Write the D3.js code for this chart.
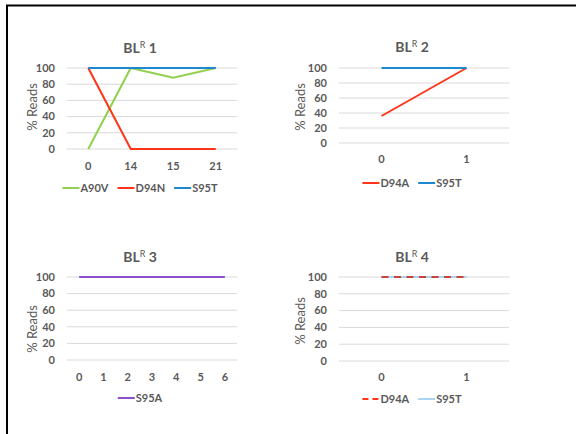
<!DOCTYPE html>
<html>
<head>
<meta charset="utf-8">
<script src="https://cdn.jsdelivr.net/npm/d3@7"></script>
<style>
  body { margin: 0; background: #fff; }
  text { font-family: Lato, "Open Sans", sans-serif; fill: #595959; }
  .tick-label { font-size: 11px; font-weight: bold; }
  .title { font-size: 14px; font-weight: bold; }
  .axis-label { font-size: 13px; }
  .legend-label { font-size: 11px; font-weight: bold; }
</style>
</head>
<body>
<svg width="576" height="434"></svg>
<script>
// chart values
const yTicks = [0, 20, 40, 60, 80, 100];

const days1 = ['0', '14', '15', '21'];
const a90v1 = [0, 100, 88, 100];
const d94n1 = [100, 0, 0, 0];
const s95t1 = [100, 100, 100, 100];

const days2 = ['0', '1'];
const d94a2 = [36, 100];
const s95t2 = [100, 100];

const days3 = ['0', '1', '2', '3', '4', '5', '6'];
const s95a3 = [100, 100, 100, 100, 100, 100, 100];

const days4 = ['0', '1'];
const d94a4 = [100, 100];
const s95t4 = [100, 100];

const svg = d3.select('svg');

// frame (top + left edge)
svg.append('line').attr('x1', 6).attr('x2', 576).attr('y1', 5.5).attr('y2', 5.5)
  .attr('stroke', '#000').attr('stroke-width', 2);
svg.append('line').attr('x1', 7).attr('x2', 7).attr('y1', 5).attr('y2', 434)
  .attr('stroke', '#000').attr('stroke-width', 2);

function drawPanel(p) {
  const g = svg.append('g');
  const x = d3.scalePoint().domain(p.days).range([p.left, p.right]).padding(0.5);
  const y = d3.scaleLinear().domain([0, 100]).range([p.bottom, p.top]);

  // gridlines
  g.selectAll('.grid').data(yTicks).join('line')
    .attr('x1', p.left).attr('x2', p.right)
    .attr('y1', d => y(d)).attr('y2', d => y(d))
    .attr('stroke', '#d9d9d9').attr('stroke-width', 1);

  // y ticks
  g.selectAll('.ytick').data(yTicks).join('text')
    .attr('class', 'tick-label')
    .attr('x', p.left - 12).attr('y', d => y(d))
    .attr('dy', '0.35em').attr('text-anchor', 'end')
    .text(d => d);

  // x ticks
  g.selectAll('.xtick').data(p.days).join('text')
    .attr('class', 'tick-label')
    .attr('x', d => x(d)).attr('y', p.xTickY)
    .attr('dy', '0.35em').attr('text-anchor', 'middle')
    .text(d => d);

  // title
  const t = g.append('text').attr('class', 'title')
    .attr('x', p.titleX).attr('y', p.titleY).attr('text-anchor', 'middle');
  t.append('tspan').text('BL');
  t.append('tspan').attr('font-size', '9px').attr('font-weight', 'normal').attr('dy', -5).text('R');
  t.append('tspan').attr('dy', 5).text(' ' + p.num);

  // y axis label
  g.append('text').attr('class', 'axis-label')
    .attr('transform', `translate(${p.yLabelX},${p.yLabelY}) rotate(-90)`)
    .attr('dy', '0.35em').attr('text-anchor', 'middle')
    .text('% Reads');

  // series
  const line = d3.line().x((d, i) => x(p.days[i])).y(d => y(d));
  p.series.forEach(s => {
    g.append('path').datum(s.values)
      .attr('d', line)
      .attr('fill', 'none')
      .attr('stroke', s.color)
      .attr('stroke-width', 2)
      .attr('stroke-dasharray', s.dash || null);
  });

  // legend, centred
  const lg = g.append('g');
  let cx = 0;
  const order = p.legendOrder || p.series;
  order.forEach(s => {
    lg.append('line').attr('x1', cx).attr('x2', cx + 17)
      .attr('y1', 0).attr('y2', 0)
      .attr('stroke', s.color).attr('stroke-width', 2)
      .attr('stroke-dasharray', s.dash ? '6,4' : null);
    const tx = lg.append('text').attr('class', 'legend-label')
      .attr('x', cx + 18).attr('y', 0).attr('dy', '0.35em').text(s.name);
    cx += 18 + tx.node().getComputedTextLength() + 9;
  });
  const w = cx - 9;
  lg.attr('transform', `translate(${p.titleX - w / 2},${p.legendY})`);
}

const green = '#92d050', red = '#ff3419', blue = '#1f87cf';

drawPanel({
  num: 1, days: days1, left: 67, right: 237, top: 68, bottom: 149,
  titleX: 140, titleY: 53, yLabelX: 32, yLabelY: 107, xTickY: 166, legendY: 188,
  series: [
    { name: 'A90V', values: a90v1, color: green },
    { name: 'D94N', values: d94n1, color: red },
    { name: 'S95T', values: s95t1, color: blue }
  ]
});

drawPanel({
  num: 2, days: days2, left: 339, right: 509, top: 68, bottom: 143,
  titleX: 412, titleY: 52, yLabelX: 300, yLabelY: 107, xTickY: 159, legendY: 183,
  series: [
    { name: 'D94A', values: d94a2, color: red },
    { name: 'S95T', values: s95t2, color: blue }
  ]
});

drawPanel({
  num: 3, days: days3, left: 67, right: 237, top: 277, bottom: 360,
  titleX: 140, titleY: 262, yLabelX: 32, yLabelY: 329, xTickY: 377, legendY: 398,
  series: [
    { name: 'S95A', values: s95a3, color: '#8b4fc8' }
  ]
});

const s4Blue = { name: 'S95T', values: s95t4, color: '#a8d5ef' };
const s4Red = { name: 'D94A', values: d94a4, color: '#c8433c', dash: '7,5.5' };
drawPanel({
  num: 4, days: days4, left: 339, right: 509, top: 277, bottom: 361,
  titleX: 412, titleY: 262, yLabelX: 300, yLabelY: 321, xTickY: 377, legendY: 399,
  series: [s4Blue, s4Red],
  legendOrder: [{ name: 'D94A', color: '#ff3419', dash: true }, s4Blue]
});
</script>
</body>
</html>
